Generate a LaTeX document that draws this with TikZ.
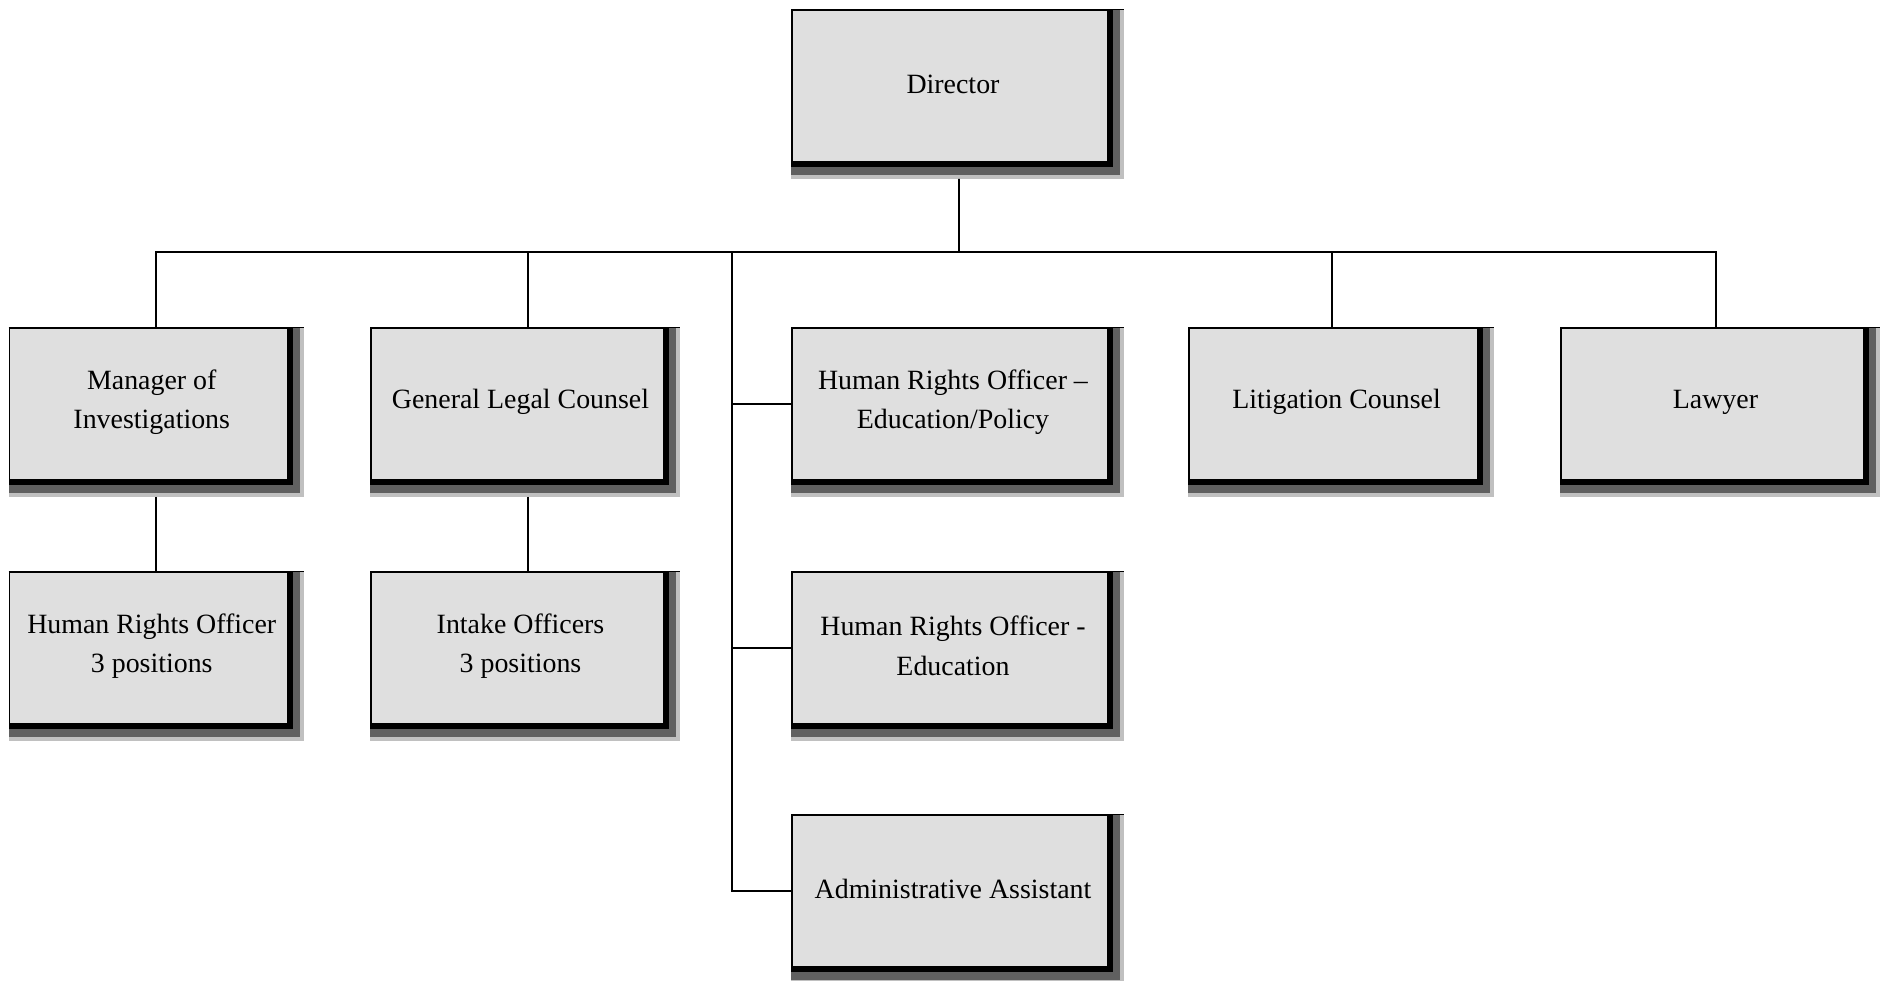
\documentclass[tikz,border=0pt]{standalone}
\usepackage{fontspec}
\setmainfont{Liberation Serif}
\pgfdeclarelayer{bg}
\pgfdeclarelayer{paper}
\pgfsetlayers{paper,bg,main}
\definecolor{boxfill}{HTML}{DFDFDF}
\definecolor{darksh}{HTML}{606060}
\definecolor{lightsh}{HTML}{C0C0C0}
\tikzset{
  orgbox/.style={fill=boxfill, draw=black, line width=1.5bp, inner sep=0pt, minimum height=152bp},
  orgtext/.style={align=center, inner sep=0pt, font=\fontsize{28}{39.6}\selectfont},
  conn/.style={draw=black, line width=1.6bp},
}
\newcommand{\orgshadow}[1]{%
  \begin{pgfonlayer}{bg}
    \fill[lightsh] (#1.north west) rectangle ([shift={(15bp,-16bp)}]#1.south east);
    \fill[darksh] (#1.north west) rectangle ([shift={(11bp,-12bp)}]#1.south east);
    \fill[black] (#1.north west) rectangle ([shift={(4.5bp,-4.5bp)}]#1.south east);
  \end{pgfonlayer}
  \draw[line width=1.5bp] (#1.north west) -- ([xshift=15bp]#1.north east);
  \node[orgtext] (#1t) at ([shift={(3bp,2bp)}]#1.center) {\csname txt#1\endcsname};
}
\begin{document}
\begin{tikzpicture}[x=1bp,y=-1bp]
\begin{pgfonlayer}{paper}
\fill[white] (0,0) rectangle (1883,980);
\end{pgfonlayer}
\useasboundingbox (0,0) rectangle (1883,980);
\expandafter\def\csname txtdir\endcsname{Director}
\expandafter\def\csname txtmgr\endcsname{Manager of\\Investigations}
\expandafter\def\csname txtglc\endcsname{General Legal Counsel}
\expandafter\def\csname txthrop\endcsname{Human Rights Officer –\\Education/Policy}
\expandafter\def\csname txtlit\endcsname{Litigation Counsel}
\expandafter\def\csname txtlaw\endcsname{Lawyer}
\expandafter\def\csname txthrot\endcsname{Human Rights Officer\\3 positions}
\expandafter\def\csname txtintake\endcsname{Intake Officers\\3 positions}
\expandafter\def\csname txthroe\endcsname{Human Rights Officer -\\Education}
\expandafter\def\csname txtadmin\endcsname{Administrative Assistant}

\node[orgbox, minimum width=316bp] (dir) at (950,86) {};
\node[orgbox, minimum width=278.5bp] (mgr) at (148.75,404) {};
\node[orgbox, minimum width=293bp] (glc) at (517.5,404) {};
\node[orgbox, minimum width=316bp] (hrop) at (950,404) {};
\node[orgbox, minimum width=289bp] (lit) at (1333.5,404) {};
\node[orgbox, minimum width=303bp] (law) at (1712.5,404) {};
\node[orgbox, minimum width=278.5bp] (hrot) at (148.75,648) {};
\node[orgbox, minimum width=293bp] (intake) at (517.5,648) {};
\node[orgbox, minimum width=316bp] (hroe) at (950,648) {};
\node[orgbox, minimum width=316bp] (admin) at (950,891) {};

\foreach \n in {dir,mgr,glc,hrop,lit,law,hrot,intake,hroe,admin}{\orgshadow{\n}}

\coordinate (bus) at (959,252);
\coordinate (spine) at (732,252);
\coordinate (dirbot) at ([shift={(9bp,-16bp)}]dir.south);
\coordinate (mgrtop) at ([xshift=7bp]mgr.north);
\coordinate (glctop) at ([xshift=10.5bp]glc.north);
\coordinate (littop) at ([xshift=-1.5bp]lit.north);
\coordinate (lawtop) at ([xshift=3.5bp]law.north);
\coordinate (mgrbot) at ([shift={(7bp,-16bp)}]mgr.south);
\coordinate (glcbot) at ([shift={(10.5bp,-16bp)}]glc.south);
\coordinate (hrottop) at ([xshift=7bp]hrot.north);
\coordinate (intaketop) at ([xshift=10.5bp]intake.north);

\draw[conn] (dirbot) -- (bus);
\draw[conn] (mgrtop) |- (bus);
\draw[conn] (lawtop) |- (bus);
\draw[conn] (glctop) -- (glctop |- bus);
\draw[conn] (littop) -- (littop |- bus);
\draw[conn] (spine) |- (admin.west);
\draw[conn] (spine |- hrop.west) -- (hrop.west);
\draw[conn] (spine |- hroe.west) -- (hroe.west);
\draw[conn] (mgrbot) -- (hrottop);
\draw[conn] (glcbot) -- (intaketop);
\end{tikzpicture}
\end{document}
